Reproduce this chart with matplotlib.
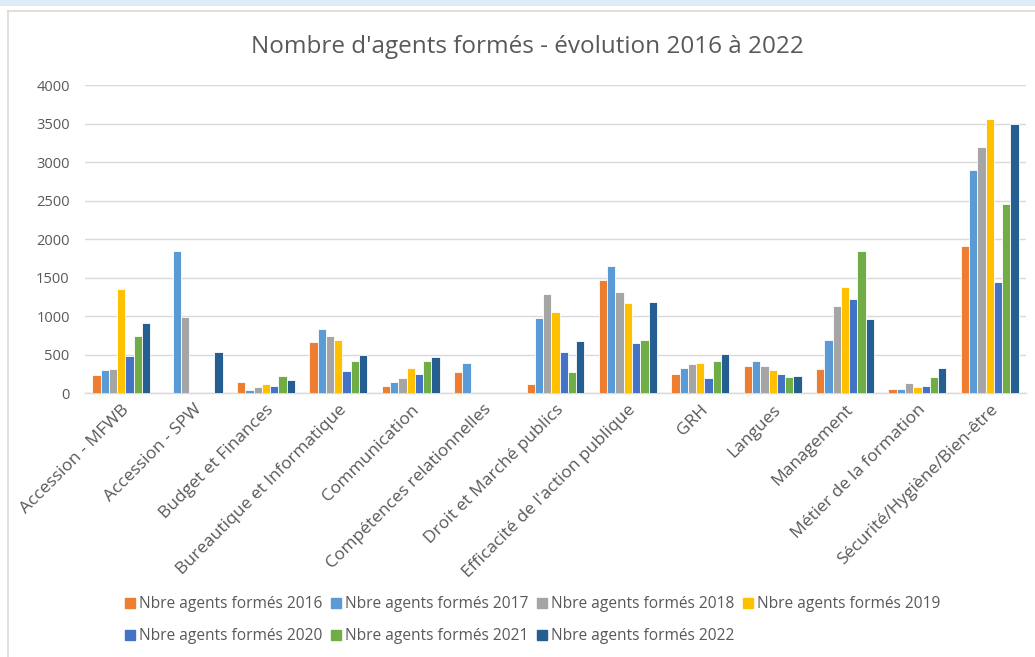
import matplotlib.pyplot as plt
import numpy as np
from matplotlib.lines import Line2D
from matplotlib.patches import Rectangle

plt.rcParams['font.family'] = ['Open Sans', 'DejaVu Sans']

# Données
categories = [
    "Accession - MFWB", "Accession - SPW", "Budget et Finances",
    "Bureautique et Informatique", "Communication", "Compétences relationnelles",
    "Droit et Marché publics", "Efficacité de l'action publique", "GRH",
    "Langues", "Management", "Métier de la formation",
    "Sécurité/Hygiène/Bien-être",
]
years = ["2016", "2017", "2018", "2019", "2020", "2021", "2022"]

v2016 = [238, 0, 143, 670, 99, 272, 117, 1470, 251, 359, 316, 52, 1916]
v2017 = [303, 1847, 48, 839, 147, 394, 982, 1656, 324, 415, 696, 56, 2898]
v2018 = [311, 995, 82, 744, 195, 9, 1289, 1315, 381, 355, 1129, 134, 3200]
v2019 = [1354, 0, 125, 696, 329, 0, 1055, 1172, 389, 307, 1380, 86, 3560]
v2020 = [484, 0, 91, 294, 255, 0, 532, 653, 195, 255, 1224, 95, 1445]
v2021 = [744, 0, 225, 420, 424, 0, 272, 692, 420, 212, 1847, 212, 2461]
v2022 = [913, 541, 173, 493, 476, 0, 675, 1181, 506, 220, 964, 329, 3490]
series = [v2016, v2017, v2018, v2019, v2020, v2021, v2022]

colors = ['#ED7D31', '#5B9BD5', '#A5A5A5', '#FFC000', '#4472C4', '#70AD47', '#255E91']
txt = '#595959'

fig = plt.figure(figsize=(10.35, 6.57), dpi=100)

# bandeau du haut et cadre du graphique
fig.patches.append(Rectangle((0, 1 - 6 / 657), 1, 6 / 657, transform=fig.transFigure,
                             facecolor='#DDEBF7', edgecolor='none', zorder=0))
fig.add_artist(Line2D([8 / 1035, 1], [1 - 11 / 657] * 2, color='#D9D9D9', lw=1.2))
fig.add_artist(Line2D([8 / 1035] * 2, [0, 1 - 11 / 657], color='#D9D9D9', lw=1.2))

ax = fig.add_axes([85 / 1035, 0.4014, 941 / 1035, 0.4692])

n = len(series)
w = 0.8 / n
x = np.arange(len(categories))
for i, (vals, c) in enumerate(zip(series, colors)):
    ax.bar(x - 0.4 + w * (i + 0.5), vals, width=w, color=c,
           edgecolor='white', linewidth=0.6, zorder=3)

ax.set_xlim(-0.5, len(categories) - 0.5)
ax.set_ylim(0, 4000)
ax.set_yticks(range(0, 4001, 500))
ax.grid(axis='y', color='#D9D9D9', linewidth=1, zorder=0)
for s in ['top', 'right', 'left']:
    ax.spines[s].set_visible(False)
ax.spines['bottom'].set_color('#D9D9D9')
ax.spines['bottom'].set_linewidth(1)
ax.tick_params(axis='y', length=0, pad=11, labelsize=10.5, labelcolor=txt)
ax.tick_params(axis='x', length=0, pad=6, labelsize=12.5, labelcolor=txt)
ax.set_xticks(x)
ax.set_xticklabels(categories, rotation=45, ha='right', rotation_mode='anchor')

fig.text(0.51, 0.928, "Nombre d'agents formés - évolution 2016 à 2022",
         ha='center', va='center', fontsize=17.5, color=txt)

# légende sur deux lignes, alignée à gauche
def handles(idx):
    return [Line2D([], [], marker='s', linestyle='none', markersize=7,
                   color=colors[i]) for i in idx]

labels = ['Nbre agents formés ' + y for y in years]
kw = dict(frameon=False, fontsize=11.2, handletextpad=0.15, columnspacing=0.5,
          handlelength=0.8, labelcolor=txt, loc='center left', borderaxespad=0)
fig.legend(handles(range(4)), labels[:4], ncol=4,
           bbox_to_anchor=(118 / 1035, 0.08), **kw)
fig.legend(handles(range(4, 7)), labels[4:], ncol=3,
           bbox_to_anchor=(118 / 1035, 0.032), **kw)

fig.savefig('out.png', dpi=100)
